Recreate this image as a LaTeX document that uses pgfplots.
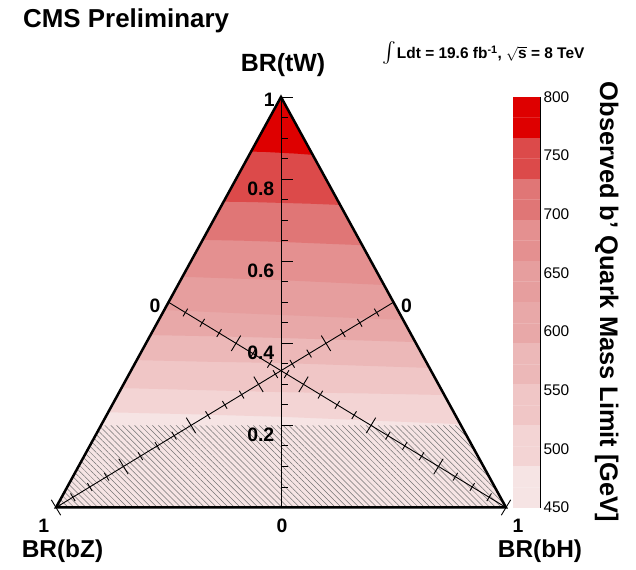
\documentclass[border=0pt]{standalone}
\usepackage{amsmath}
\usepackage{exscale}
\usepackage{fontspec}
\setmainfont{Liberation Sans}
\usepackage{pgfplots}
\pgfplotsset{compat=1.18}
\usepackage{pgfplotstable}
\usetikzlibrary{calc,patterns.meta}
\newcommand\fs[1]{\fontsize{#1}{#1}\selectfont}
\definecolor{c1}{HTML}{DE0000}
\definecolor{c2}{HTML}{DC4A4A}
\definecolor{c3}{HTML}{E07676}
\definecolor{c4}{HTML}{E49090}
\definecolor{c5}{HTML}{E69E9E}
\definecolor{c6}{HTML}{E8A8A8}
\definecolor{c7}{HTML}{ECB8B8}
\definecolor{c8}{HTML}{F0C6C6}
\definecolor{c9}{HTML}{F3D4D4}
\definecolor{c10}{HTML}{F6E4E4}
% contour boundaries (BR(tW) height) at fraction u across the triangle
% b1=485, b2=520, b3=555, b4=590, b5=625, b6=660, b7=695, b8=730, b9=765 GeV
\pgfplotstableread{
u    b1    b2    b3    b4    b5    b6    b7    b8    b9
0    0.232 0.291 0.359 0.420 0.481 0.562 0.652 0.745 0.867
0.25 0.227 0.286 0.355 0.417 0.475 0.558 0.650 0.744 0.866
0.5  0.221 0.281 0.352 0.413 0.469 0.554 0.647 0.742 0.864
0.75 0.212 0.278 0.346 0.408 0.463 0.548 0.643 0.740 0.862
1    0.203 0.274 0.340 0.403 0.457 0.542 0.639 0.737 0.859
0.5  1     1     1     1     1     1     1     1     1
}\bounds
\begin{document}
\begin{tikzpicture}
\begin{axis}[name=main, x=450bp, y=410.5bp, xmin=0, xmax=1, ymin=0, ymax=1,
  hide axis, clip=false]
\addplot[fill=c10, draw=none] coordinates {(0,0) (1,0) (0.5,1)};
\addplot[fill=c9, draw=none] table[x expr={0.5*\thisrow{b1}+\thisrow{u}*(1-\thisrow{b1})}, y=b1] {\bounds};
\addplot[fill=c8, draw=none] table[x expr={0.5*\thisrow{b2}+\thisrow{u}*(1-\thisrow{b2})}, y=b2] {\bounds};
\addplot[fill=c7, draw=none] table[x expr={0.5*\thisrow{b3}+\thisrow{u}*(1-\thisrow{b3})}, y=b3] {\bounds};
\addplot[fill=c6, draw=none] table[x expr={0.5*\thisrow{b4}+\thisrow{u}*(1-\thisrow{b4})}, y=b4] {\bounds};
\addplot[fill=c5, draw=none] table[x expr={0.5*\thisrow{b5}+\thisrow{u}*(1-\thisrow{b5})}, y=b5] {\bounds};
\addplot[fill=c4, draw=none] table[x expr={0.5*\thisrow{b6}+\thisrow{u}*(1-\thisrow{b6})}, y=b6] {\bounds};
\addplot[fill=c3, draw=none] table[x expr={0.5*\thisrow{b7}+\thisrow{u}*(1-\thisrow{b7})}, y=b7] {\bounds};
\addplot[fill=c2, draw=none] table[x expr={0.5*\thisrow{b8}+\thisrow{u}*(1-\thisrow{b8})}, y=b8] {\bounds};
\addplot[fill=c1, draw=none] table[x expr={0.5*\thisrow{b9}+\thisrow{u}*(1-\thisrow{b9})}, y=b9] {\bounds};
\addplot[draw=none, pattern={Lines[angle=-45,distance=4.2bp,line width=0.5bp]}, pattern color=black!55]
  coordinates {(0,0) (1,0) (0.9,0.2) (0.1,0.2)};
\coordinate (L) at (axis cs:0,0);
\end{axis}
\coordinate (O) at ($(L)+(-56bp,507.5bp)$);
\coordinate (cbsw) at ($(O)+(512.5bp,-507.5bp)$);
\begin{scope}[shift={(O)}, x=1bp, y=-1bp]
 \draw[line width=0.9bp] (281,507.5) -- (281,97);
 \draw[line width=0.9bp] (168.5,302.25) -- (506,507.5);
 \draw[line width=0.9bp] (393.5,302.25) -- (56,507.5);
 \foreach \k in {1,...,20}{
   \pgfmathsetmacro{\yy}{507.5-20.525*\k}
   \pgfmathsetmacro{\ll}{ifthenelse(mod(\k,4)==0,12,7)}
   \draw[line width=0.9bp] (281,\yy) -- ++(\ll,0);
 }
 \foreach \k in {0,...,20}{
   \pgfmathsetmacro{\hh}{ifthenelse(mod(\k,4)==0,9,4.5)}
   \pgfmathsetmacro{\px}{168.5+16.875*\k}
   \pgfmathsetmacro{\qx}{393.5-16.875*\k}
   \pgfmathsetmacro{\py}{302.25+10.2625*\k}
   \draw[line width=0.9bp] ({\px+0.5196*\hh},{\py-0.8544*\hh}) -- ({\px-0.5196*\hh},{\py+0.8544*\hh});
   \draw[line width=0.9bp] ({\qx-0.5196*\hh},{\py-0.8544*\hh}) -- ({\qx+0.5196*\hh},{\py+0.8544*\hh});
 }
 \draw[line width=2.5bp, line join=miter] (56,507.5) -- (506,507.5) -- (281,97) -- cycle;
 % labels
 \node[anchor=base west, inner sep=0pt, font=\bfseries\fs{26}] at (23,28) {CMS Preliminary};
 \node[anchor=base, inner sep=0pt, font=\bfseries\fs{25}] at (283,72) {BR(tW)};
 \node[anchor=base, inner sep=0pt, font=\bfseries\fs{24.5}] at (62.5,558) {BR(bZ)};
 \node[anchor=base, inner sep=0pt, font=\bfseries\fs{24.5}] at (540,558) {BR(bH)};
 \node[anchor=base west, inner sep=0pt, font=\bfseries\fs{15.5}] at (382,58.5)
   {{\fs{20}$\int$}\kern1bp Ldt = 19.6 fb\textsuperscript{-1}, $\sqrt{\textbf{s}}$ = 8 TeV};
 \begin{scope}[every node/.style={inner sep=0pt, font=\bfseries\fs{19.5}}]
 \node[anchor=base east] at (274.5,441.9) {0.2};
 \node[anchor=base east] at (274.5,359.8) {0.4};
 \node[anchor=base east] at (274.5,277.7) {0.6};
 \node[anchor=base east] at (274.5,195.6) {0.8};
 \node[anchor=base east] at (275,107) {1};
 \node[anchor=base] at (155,313) {0};
 \node[anchor=base] at (406.5,313) {0};
 \node[anchor=base] at (43.7,533) {1};
 \node[anchor=base] at (282,533) {0};
 \node[anchor=base] at (518,533) {1};
 \end{scope}
 \node[rotate=-90, anchor=base, inner sep=0pt, font=\bfseries\fs{25.5}] at (600,302)
   {Observed b' Quark Mass Limit [GeV]};
\end{scope}
\begin{axis}[at={(cbsw)}, anchor=south west, x=27.5bp, y=1.172857bp,
  xmin=0, xmax=1, ymin=450, ymax=800, axis x line=none, axis y line*=right,
  ytick={450,500,...,800}, tick align=inside, major tick length=11.5bp,
  every tick/.style={black, line width=0.8bp}, axis line style={line width=0.8bp},
  yticklabel style={font=\fs{15.5}}, /pgf/number format/assume math mode=true,
  clip=false]
\addplot[fill=c10, draw=none] coordinates {(0,450) (1,450) (1,485) (0,485)};
\addplot[fill=c9, draw=none] coordinates {(0,485) (1,485) (1,520) (0,520)};
\addplot[fill=c8, draw=none] coordinates {(0,520) (1,520) (1,555) (0,555)};
\addplot[fill=c7, draw=none] coordinates {(0,555) (1,555) (1,590) (0,590)};
\addplot[fill=c6, draw=none] coordinates {(0,590) (1,590) (1,625) (0,625)};
\addplot[fill=c5, draw=none] coordinates {(0,625) (1,625) (1,660) (0,660)};
\addplot[fill=c4, draw=none] coordinates {(0,660) (1,660) (1,695) (0,695)};
\addplot[fill=c3, draw=none] coordinates {(0,695) (1,695) (1,730) (0,730)};
\addplot[fill=c2, draw=none] coordinates {(0,730) (1,730) (1,765) (0,765)};
\addplot[fill=c1, draw=none] coordinates {(0,765) (1,765) (1,800) (0,800)};
\addplot[white, opacity=0.15, line width=0.5bp] coordinates {(0,467.5) (1,467.5)};
\addplot[white, opacity=0.15, line width=0.5bp] coordinates {(0,502.5) (1,502.5)};
\addplot[white, opacity=0.15, line width=0.5bp] coordinates {(0,537.5) (1,537.5)};
\addplot[white, opacity=0.15, line width=0.5bp] coordinates {(0,572.5) (1,572.5)};
\addplot[white, opacity=0.15, line width=0.5bp] coordinates {(0,607.5) (1,607.5)};
\addplot[white, opacity=0.15, line width=0.5bp] coordinates {(0,642.5) (1,642.5)};
\addplot[white, opacity=0.15, line width=0.5bp] coordinates {(0,677.5) (1,677.5)};
\addplot[white, opacity=0.15, line width=0.5bp] coordinates {(0,712.5) (1,712.5)};
\addplot[white, opacity=0.15, line width=0.5bp] coordinates {(0,747.5) (1,747.5)};
\addplot[white, opacity=0.15, line width=0.5bp] coordinates {(0,782.5) (1,782.5)};
\end{axis}
\pgfresetboundingbox
\path[use as bounding box] (O) rectangle ($(O)+(636bp,-570bp)$);
\end{tikzpicture}
\end{document}
